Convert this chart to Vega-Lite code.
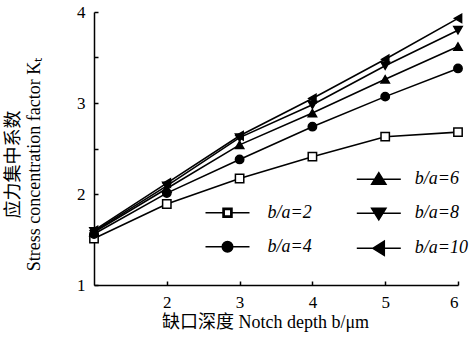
{
  "$schema": "https://vega.github.io/schema/vega-lite/v6.json",
  "autosize": {"type": "none"},
  "padding": {"left": 94, "top": 12, "right": 13, "bottom": 66},
  "width": 364,
  "height": 273,
  "background": "white",
  "config": {
    "view": {"stroke": null},
    "font": "Liberation Serif, Noto Sans CJK SC",
    "axis": {
      "domainColor": "black", "domainWidth": 1.5, "tickColor": "black", "tickWidth": 1.5,
      "tickSize": -4, "grid": false, "labelColor": "black", "titleColor": "black",
      "labelFont": "Liberation Serif", "labelFontSize": 17, "titleFontWeight": "normal",
      "titleFont": "Liberation Serif, Noto Sans CJK SC", "titleFontSize": 18
    }
  },
  "data": {"values": [
    {"x": 1, "y": 1.51, "s": "b/a=2"}, {"x": 2, "y": 1.89, "s": "b/a=2"}, {"x": 3, "y": 2.17, "s": "b/a=2"},
    {"x": 4, "y": 2.41, "s": "b/a=2"}, {"x": 5, "y": 2.63, "s": "b/a=2"}, {"x": 6, "y": 2.68, "s": "b/a=2"},
    {"x": 1, "y": 1.56, "s": "b/a=4"}, {"x": 2, "y": 2.01, "s": "b/a=4"}, {"x": 3, "y": 2.38, "s": "b/a=4"},
    {"x": 4, "y": 2.74, "s": "b/a=4"}, {"x": 5, "y": 3.07, "s": "b/a=4"}, {"x": 6, "y": 3.38, "s": "b/a=4"},
    {"x": 1, "y": 1.58, "s": "b/a=6"}, {"x": 2, "y": 2.06, "s": "b/a=6"}, {"x": 3, "y": 2.54, "s": "b/a=6"},
    {"x": 4, "y": 2.89, "s": "b/a=6"}, {"x": 5, "y": 3.26, "s": "b/a=6"}, {"x": 6, "y": 3.62, "s": "b/a=6"},
    {"x": 1, "y": 1.59, "s": "b/a=8"}, {"x": 2, "y": 2.09, "s": "b/a=8"}, {"x": 3, "y": 2.62, "s": "b/a=8"},
    {"x": 4, "y": 2.98, "s": "b/a=8"}, {"x": 5, "y": 3.41, "s": "b/a=8"}, {"x": 6, "y": 3.80, "s": "b/a=8"},
    {"x": 1, "y": 1.60, "s": "b/a=10"}, {"x": 2, "y": 2.12, "s": "b/a=10"}, {"x": 3, "y": 2.64, "s": "b/a=10"},
    {"x": 4, "y": 3.05, "s": "b/a=10"}, {"x": 5, "y": 3.48, "s": "b/a=10"}, {"x": 6, "y": 3.93, "s": "b/a=10"}
  ]},
  "encoding": {
    "x": {"field": "x", "type": "quantitative", "scale": {"domain": [1, 6], "nice": false, "zero": false},
      "axis": {"values": [2, 3, 4, 5, 6], "format": "d", "labelPadding": 13, "title": "缺口深度 Notch depth b/μm",
        "titleX": 171, "titleY": 37, "titleBaseline": "middle", "titleAlign": "center", "titleAnchor": null}},
    "y": {"field": "y", "type": "quantitative", "scale": {"domain": [1, 4], "nice": false, "zero": false},
      "axis": {"values": [1, 1.5, 2, 2.5, 3, 3.5, 4], "labelExpr": "datum.value % 1 === 0 ? format(datum.value, 'd') : ''",
        "labelPadding": 13, "title": ["应力集中系数", "Stress concentration factor Kₜ"],
        "titleX": -81, "titleY": 152, "titleAngle": -90, "titleBaseline": "middle", "titleAlign": "center",
        "titleLineHeight": 21, "titleAnchor": null}}
  },
  "layer": [
    {"mark": {"type": "line", "color": "black", "strokeWidth": 1.6},
     "encoding": {"detail": {"field": "s"}}},
    {"mark": {"type": "point", "filled": false, "stroke": "black", "strokeWidth": 1.5, "size": 70, "opacity": 1, "clip": false},
     "encoding": {
       "shape": {"field": "s", "type": "nominal", "legend": null,
         "scale": {"domain": ["b/a=2", "b/a=4", "b/a=6", "b/a=8", "b/a=10"],
           "range": ["square", "circle", "triangle-up", "triangle-down", "triangle-left"]}},
       "fill": {"field": "s", "type": "nominal", "legend": null,
         "scale": {"domain": ["b/a=2", "b/a=4", "b/a=6", "b/a=8", "b/a=10"],
           "range": ["white", "black", "black", "black", "black"]}}
     }},
    {"transform": [{"filter": "datum.s === 'b/a=2' || datum.s === 'b/a=4'"}],
     "mark": {"type": "point", "filled": true, "fill": "black", "stroke": "black", "opacity": 0},
     "encoding": {
       "shape": {"field": "s", "type": "nominal",
         "scale": {"domain": ["b/a=2", "b/a=4"],
           "range": ["M-2,0H-0.41M0.41,0H2M-0.41,-0.41H0.41V0.41H-0.41ZM-0.3,-0.3V0.3H0.3V-0.3Z",
                     "M-2,0H2M0.48,0A0.48,0.48,0,1,1,-0.48,0A0.48,0.48,0,1,1,0.48,0Z"]},
         "legend": {"title": null, "orient": "none", "legendX": 121.5, "legendY": 188.7, "padding": 0,
           "symbolSize": 484, "symbolOpacity": 1, "symbolFillColor": "black", "symbolStrokeColor": "black",
           "symbolStrokeWidth": 1.5, "labelOffset": 28, "labelFont": "Liberation Serif", "labelFontSize": 18,
           "labelFontStyle": "italic", "labelColor": "black", "rowPadding": 13,
           "encoding": {"symbols": {"stroke": {"value": "black"}, "strokeWidth": {"value": 1.5},
             "fill": {"value": "black"}, "opacity": {"value": 1}}}}}
     }},
    {"transform": [{"filter": "datum.s === 'b/a=6' || datum.s === 'b/a=8' || datum.s === 'b/a=10'"}],
     "mark": {"type": "point", "filled": true, "fill": "black", "stroke": "black", "opacity": 0},
     "encoding": {
       "shape": {"field": "s", "type": "nominal",
         "scale": {"domain": ["b/a=6", "b/a=8", "b/a=10"],
           "range": ["M-2,0H2M-0.65,0.45L0,-0.6L0.65,0.45Z",
                     "M-2,0H2M-0.65,-0.45L0,0.6L0.65,-0.45Z",
                     "M-2,0H2M-0.55,0L0.5,-0.65L0.5,0.65Z"]},
         "legend": {"title": null, "orient": "none", "legendX": 272.8, "legendY": 155.3, "padding": 0,
           "symbolSize": 484, "symbolOpacity": 1, "symbolFillColor": "black", "symbolStrokeColor": "black",
           "symbolStrokeWidth": 1.5, "labelOffset": 24, "labelFont": "Liberation Serif", "labelFontSize": 18,
           "labelFontStyle": "italic", "labelColor": "black", "rowPadding": 13,
           "encoding": {"symbols": {"stroke": {"value": "black"}, "strokeWidth": {"value": 1.5},
             "fill": {"value": "black"}, "opacity": {"value": 1}}}}}
     }}
  ],
  "resolve": {"scale": {"shape": "independent", "fill": "independent"}}
}
